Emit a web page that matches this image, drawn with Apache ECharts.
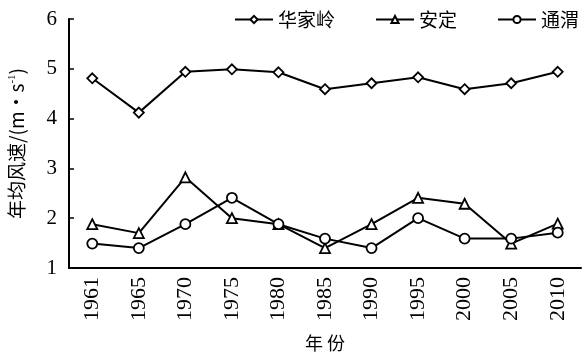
<!DOCTYPE html>
<html>
<head>
<meta charset="utf-8">
<script src="https://cdn.jsdelivr.net/npm/echarts@6/dist/echarts.min.js"></script>
<style>
  html, body { margin: 0; padding: 0; background: #fff; }
  #main { width: 584px; height: 358px; }
</style>
</head>
<body>
<div id="main"></div>
<script>
// 年份
var years = ['1961', '1965', '1970', '1975', '1980', '1985', '1990', '1995', '2000', '2005', '2010'];
// 年均风速 m/s
var huajialing = [4.81, 4.12, 4.94, 4.99, 4.93, 4.59, 4.71, 4.83, 4.59, 4.71, 4.94];
var anding = [1.88, 1.70, 2.82, 2.0, 1.88, 1.40, 1.88, 2.41, 2.29, 1.49, 1.89];
var tongwei = [1.49, 1.40, 1.88, 2.41, 1.88, 1.59, 1.40, 2.0, 1.59, 1.59, 1.71];
var yTicks = [1, 6, 1]; // min, max, interval

var serif = '"Liberation Serif", "DejaVu Serif", serif';
var cjk = '"Noto Sans CJK SC", sans-serif';

function mkSeries(name, data, symbol, size) {
  return {
    name: name,
    type: 'line',
    data: data,
    symbol: symbol,
    symbolSize: size,
    showAllSymbol: true,
    lineStyle: { color: '#000', width: 2 },
    itemStyle: { color: '#fff', borderColor: '#000', borderWidth: 1.8 },
    emphasis: { disabled: true }
  };
}

var chart = echarts.init(document.getElementById('main'));
chart.setOption({
  animation: false,
  backgroundColor: '#fff',
  grid: { left: 69, right: 3, top: 19, bottom: 90, containLabel: false, outerBoundsMode: 'none' },
  legend: {
    top: 5,
    right: 0,
    itemWidth: 38,
    itemHeight: 9,
    itemGap: 40,
    textStyle: { fontFamily: cjk, fontSize: 19, color: '#000' },
    data: ['华家岭', '安定', '通渭']
  },
  xAxis: {
    type: 'category',
    data: years,
    boundaryGap: true,
    name: '年 份',
    nameLocation: 'middle',
    nameGap: 66,
    nameTextStyle: { fontFamily: cjk, fontSize: 18, color: '#000' },
    axisLine: { lineStyle: { color: '#000', width: 2 } },
    axisTick: { inside: true, alignWithLabel: true, length: 5, lineStyle: { color: '#000', width: 1.5 } },
    axisLabel: { rotate: 90, margin: 9, fontFamily: serif, fontSize: 22, color: '#000' },
    splitLine: { show: false }
  },
  yAxis: {
    type: 'value',
    min: yTicks[0],
    max: yTicks[1],
    interval: yTicks[2],
    name: '{a|年均风速/(m•s}{sup|-1}{a|)}',
    nameLocation: 'middle',
    nameGap: 42,
    nameRotate: 90,
    nameTextStyle: {
      rich: {
        a: { fontFamily: cjk, fontSize: 19, color: '#000' },
        sup: { fontFamily: serif, fontSize: 11, color: '#000', verticalAlign: 'top', padding: [0, 0, 9, 0] }
      }
    },
    axisLine: { show: true, lineStyle: { color: '#000', width: 2 } },
    axisTick: { show: true, inside: true, length: 5, lineStyle: { color: '#000', width: 1.5 } },
    axisLabel: { margin: 12, fontFamily: serif, fontSize: 21, color: '#000' },
    splitLine: { show: false }
  },
  series: [
    mkSeries('华家岭', huajialing, 'diamond', 10),
    mkSeries('安定', anding, 'triangle', 10),
    mkSeries('通渭', tongwei, 'circle', 10)
  ]
});
</script>
</body>
</html>
